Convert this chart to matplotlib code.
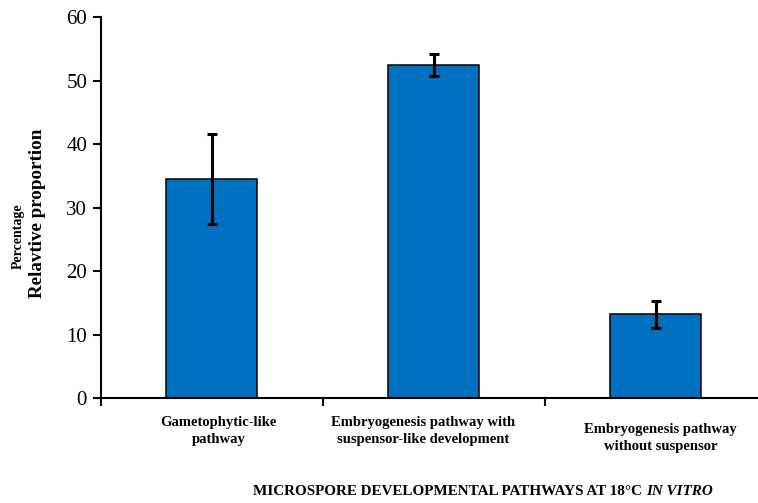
import numpy as np
import matplotlib.pyplot as plt
import matplotlib.transforms as mtransforms

plt.rcParams["font.family"] = ["Liberation Serif", "DejaVu Serif"]

# ── Data ─────────────────────────────────────────────────────────────────────
categories = ["Gametophytic-like\npathway",
              "Embryogenesis pathway with\nsuspensor-like development",
              "Embryogenesis pathway\nwithout suspensor"]
values = [34.5, 52.4, 13.2]
errors = [7.1, 1.75, 2.1]
yticks = [0, 10, 20, 30, 40, 50, 60]

BLUE = "#0070C0"

fig = plt.figure(figsize=(7.58, 5.03), dpi=100, facecolor="white")
ax = fig.add_axes([0.1332, 0.2087, 0.8786, 0.7575])

x = np.arange(len(values))
ax.bar(x, values, width=0.41, color=BLUE, edgecolor="black", linewidth=1.1, zorder=2)
ax.errorbar(x, values, yerr=errors, fmt="none", ecolor="black",
            elinewidth=2.2, capsize=3.5, capthick=2.2, zorder=3)

ax.set_xlim(-0.5, 2.5)
ax.set_ylim(0, 60)
ax.set_yticks(yticks)
ax.tick_params(axis="y", direction="out", length=6, width=1.5, labelsize=15, pad=4)

# tick marks sit on the category boundaries; labels are drawn as text below
ax.set_xticks([-0.5, 0.5, 1.5, 2.5])
ax.set_xticklabels([])
ax.tick_params(axis="x", direction="out", length=6, width=1.5)

ax.spines[["top", "right"]].set_visible(False)
ax.spines["left"].set_linewidth(1.5)
ax.spines["bottom"].set_linewidth(1.5)

trans = mtransforms.blended_transform_factory(ax.transData, ax.transAxes)
label_dx = [0.03, -0.05, 0.02]
label_dy = [-0.048, -0.048, -0.066]
for i, lab in enumerate(categories):
    ax.text(x[i] + label_dx[i], label_dy[i], lab, transform=trans, ha="center",
            va="top", fontsize=10.5, fontweight="bold", linespacing=1.35)

# two-line y label: small "Percentage" and larger "Relavtive proportion"
fig.text(0.024, 0.531, "Percentage", rotation=90, ha="center", va="center",
         fontsize=10, fontweight="bold")
fig.text(0.050, 0.575, "Relavtive proportion", rotation=90, ha="center",
         va="center", fontsize=13.7, fontweight="bold")

t1 = fig.text(0.334, 0.016, "MICROSPORE DEVELOPMENTAL PATHWAYS AT 18°C ",
              ha="left", va="baseline", fontsize=10.9, fontweight="bold")
fig.canvas.draw()
bb = t1.get_window_extent().transformed(fig.transFigure.inverted())
fig.text(bb.x1, 0.016, "IN VITRO", ha="left", va="baseline",
         fontsize=10.9, fontweight="bold", style="italic")

fig.savefig("out.png", dpi=100, facecolor="white")
